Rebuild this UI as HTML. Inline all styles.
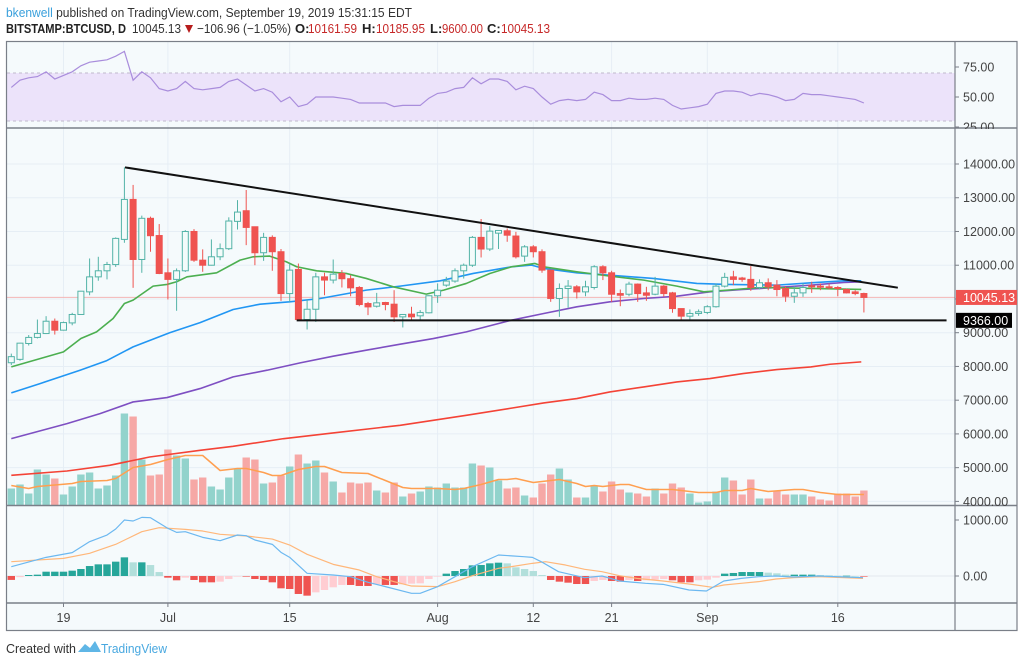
<!DOCTYPE html>
<html><head><meta charset="utf-8">
<style>
html,body{margin:0;padding:0;background:#fff;}
svg{display:block;font-family:"Liberation Sans",sans-serif;}
</style></head>
<body>
<svg id="chart" width="1024" height="665" viewBox="0 0 1024 665" xmlns="http://www.w3.org/2000/svg">
  <g>
    <text x="6" y="17" font-size="13" textLength="406" lengthAdjust="spacingAndGlyphs" fill="#333"><tspan fill="#3aa0dc">bkenwell</tspan> published on TradingView.com, September 19, 2019 15:31:15 EDT</text>
    <g font-size="13">
      <text x="6" y="33" font-weight="bold" fill="#222" textLength="120" lengthAdjust="spacingAndGlyphs">BITSTAMP:BTCUSD, D</text>
      <text x="132" y="33" fill="#333" textLength="49" lengthAdjust="spacingAndGlyphs">10045.13</text>
      <polygon points="185,25 193,25 189,33" fill="#b71c1c"/>
      <text x="197" y="33" fill="#333" textLength="94" lengthAdjust="spacingAndGlyphs">−106.96 (−1.05%)</text>
      <text x="295" y="33" font-weight="bold" fill="#222">O:</text>
      <text x="308" y="33" fill="#c62828" textLength="49" lengthAdjust="spacingAndGlyphs">10161.59</text>
      <text x="362" y="33" font-weight="bold" fill="#222">H:</text>
      <text x="376" y="33" fill="#c62828" textLength="49" lengthAdjust="spacingAndGlyphs">10185.95</text>
      <text x="430" y="33" font-weight="bold" fill="#222">L:</text>
      <text x="442" y="33" fill="#c62828" textLength="41" lengthAdjust="spacingAndGlyphs">9600.00</text>
      <text x="487" y="33" font-weight="bold" fill="#222">C:</text>
      <text x="501" y="33" font-size="13" fill="#c62828" textLength="49" lengthAdjust="spacingAndGlyphs">10045.13</text>
    </g>
  </g>
  <rect x="6" y="41" width="1011" height="590" fill="#f5fafc"/>
  <g id="grid"></g>
  <g id="rsi"></g>
  <g id="main"></g>
  <g id="macd"></g>
  <g id="axes"></g>
  <g>
    <text x="6" y="653" font-size="13" fill="#333" textLength="70" lengthAdjust="spacingAndGlyphs">Created with</text>
    <path d="M78,652 L85,644 L90,648 L95,641 L101,652 Z" fill="#5fb6e6"/>
    <text x="101" y="653" font-size="13" fill="#48a8e0" textLength="66" lengthAdjust="spacingAndGlyphs">TradingView</text>
  </g>
</svg>
<script>
// ---------- data ----------
const opens  = [8110,8210,8680,8860,8975,9340,9075,9290,9540,10210,10655,10835,11020,11765,12950,11170,12390,11880,10775,10580,10835,12000,11150,11000,11250,11490,12300,12615,12140,11370,11825,11400,10160,10875,9390,9695,10655,10560,10755,10600,10340,9865,9785,9895,9845,9470,9550,9500,9590,10095,10410,10530,10835,11000,11825,11480,11950,12020,11865,11270,11545,11400,10855,10015,10310,10360,10210,10340,10955,10775,10160,10140,10440,10180,10140,10380,10180,9715,9490,9570,9600,9770,10380,10655,10620,10580,10340,10480,10410,10310,10080,10180,10390,10380,10360,10340,10280,10210,10161.59];
const highs  = [8380,8700,8930,9390,9490,9420,9330,9590,10240,11200,11250,11100,11825,13900,13380,12470,12440,12220,11200,10905,12040,12070,11470,11765,11645,12420,12930,13230,12140,11960,11885,11480,11050,11050,9995,10775,10775,11170,10855,10705,10380,9915,10180,9915,10260,9550,9770,9670,10110,10460,10655,10905,11050,11865,12370,12160,12040,12090,11990,11595,11595,11470,10875,10460,10560,10410,10540,11000,11000,10835,10280,10510,10460,10360,10655,10410,10210,9715,9690,9690,9815,10460,10775,10835,10655,10975,10580,10610,10560,10380,10380,10460,10510,10460,10460,10380,10310,10260,10185.95];
const lows   = [8040,8170,8620,8830,8960,8945,9060,9220,9540,10110,10540,10580,10950,11665,10330,10775,11400,10735,9985,9650,10800,11100,10805,10990,11150,11450,12060,11595,11000,11130,10835,9945,9915,9390,9095,9320,10110,10460,10340,10080,9785,9520,9745,9665,9320,9155,9390,9390,9570,9885,10360,10480,10605,10950,11230,11420,11480,11695,11200,11100,11230,10775,9915,9470,9745,10015,10080,10280,10560,9915,9785,10080,9915,9945,10110,10065,9590,9370,9390,9500,9550,9745,10340,10410,10510,10240,10280,10260,10080,9915,9885,10060,10180,10260,10280,10080,10160,10110,9600];
const closes = [8290,8690,8860,8975,9340,9075,9300,9540,10230,10655,10835,11020,11795,12950,11170,12390,11875,10755,10580,10835,12000,11150,11000,11250,11490,12310,12575,12120,11370,11825,11400,10160,10855,9390,9695,10655,10560,10735,10600,10330,9835,9765,9885,9835,9470,9540,9470,9600,10095,10260,10530,10835,11000,11825,11480,12010,12030,11890,11250,11545,11400,10855,10015,10310,10380,10210,10360,10955,10775,10140,10110,10440,10160,10110,10380,10160,9715,9490,9570,9620,9770,10380,10640,10580,10580,10340,10480,10360,10280,10080,10180,10340,10360,10360,10340,10310,10180,10160,10045.13];
const volumes = [17,21,12,36,31,27,11,19,31,33,17,20,30,92,89,46,30,31,56,50,47,26,28,19,16,28,37,48,46,22,23,30,39,51,42,45,33,24,13,23,22,23,15,13,23,9,12,14,19,18,22,18,18,42,40,38,25,17,18,10,8,22,31,37,26,8,8,20,14,24,16,13,12,9,17,12,22,18,12,3,4,14,28,25,11,26,7,7,15,11,11,11,9,6,5,12,12,9,15];
const volMaDays = [0,2,3,7,8,11,12,14,16,18,20,22,24,26,27,29,30,31,33,35,36,38,41,43,45,46,49,51,52,54,56,57,58,60,62,63,65,66,67,68,70,71,73,76,77,79,81,82,84,85,87,90,91,93,95,98];
const volMaVals = [20,17,19,22,24,25,27,38,41,46,50,50,35,37,37,33,30,30,36,39,39,33,32,25,18,17,17,16,17,21,26,26,27,23,25,26,22,19,20,19,21,21,16,16,15,13,13,15,15,17,14,16,16,13,11,11];
const rsiVals = [58,64,66,67,71,65,68,71,76,79,80,81,84,88,64,71,66,57,55,57,63,57,56,57,58,63,65,60,55,57,54,46,50,42,44,50,50,50,49,48,45,45,45,45,42,43,43,43,49,53,54,57,58,66,61,65,65,63,56,59,57,50,44,47,48,47,48,54,52,47,47,49,48,48,49,48,43,40,41,42,44,53,55,55,54,51,53,52,50,47,48,53,52,52,51,50,49,48,45];
const ma20Days = [0,6,8,9.8,11.7,13,14,16.3,17.9,19,20.2,23.6,26.3,27.8,29.7,31.6,32.8,35.1,38.5,40.8,43.9,47.7,49.7,52.3,55,57.5,60.2,61.2,65,68.8,72.7,76.5,79.6,82.3,86.1,91.9,97.7];
const ma20Vals = [7986,8431,8827,9025,9420,9866,9965,10380,10430,10510,10657,10775,11151,11250,11270,11102,10954,10835,10756,10608,10360,10143,10262,10460,10756,10954,11052,10954,10805,10677,10558,10380,10212,10262,10341,10311,10281];
const ma50Days = [0,3.3,7.9,10.9,14,18.2,21.7,25.5,28.6,32,35.5,40.8,44.7,49.3,53.1,57.5,59.8,61.2,65,68.8,73.8,78.8,82.3,88,91.9,95.7,97.7];
const ma50Vals = [7215,7492,7888,8164,8580,9000,9300,9688,9846,9915,10014,10262,10380,10538,10756,10954,11003,10904,10775,10706,10607,10459,10430,10410,10479,10538,10538];
const ma100Days = [0,6.4,10.2,14,17.9,21.7,25.5,29.4,33.2,37,40.8,44.7,48.5,52.3,57.5,61.2,65,68.8,72.7,76.5,80.3,84.1,88,91.9,95.7,97.7];
const ma100Vals = [5860,6305,6602,6948,7077,7344,7690,7888,8105,8303,8481,8659,8827,9025,9371,9569,9767,9915,10014,10083,10212,10281,10341,10410,10489,10508];
const ma200Days = [0,6.4,11.3,15.9,21.7,25.5,31.3,37,44.7,52.3,57.5,61.2,65,68.8,72.7,76.5,80.3,84.1,88,91.9,94.1,97.7];
const ma200Vals = [4772,4901,5069,5316,5514,5633,5860,6028,6256,6552,6765,6918,7047,7245,7393,7541,7640,7789,7907,7986,8065,8135];
const histVals = [-70,-20,18,24,77,77,77,95,125,178,208,208,256,333,244,244,196,71,-30,-77,-30,-71,-113,-113,-101,-54,-5,-5,-54,-71,-113,-220,-232,-321,-351,-292,-250,-202,-160,-160,-178,-178,-149,-160,-160,-149,-137,-131,-54,-5,42,89,125,190,196,226,238,226,155,125,89,18,-71,-101,-119,-143,-143,-89,-71,-89,-101,-71,-89,-77,-65,-54,-77,-113,-113,-77,-65,-30,42,54,71,71,71,60,48,24,24,24,24,18,12,6,6,0,-6];
const macdDays = [0,4,7,9,11,12,13,14,15,16,18,19,20,22,24,26,27,28,30,31,32,34,37,39,41,43,46,47,49,51,53,56,57.5,58.9,59.9,60.9,62.9,65.9,67.9,69.9,72.9,74.9,77.9,79.9,81.9,83.9,85.9,87.9,89.9,92.8,97.9];
const macdVals = [167,333,417,613,732,839,1000,982,1047,1041,851,779,791,690,631,732,720,643,565,422,333,48,18,-12,-113,-190,-309,-309,-190,-12,167,375,360,345,333,256,77,-30,0,-89,-131,-149,-250,-268,-89,-42,-12,0,-18,0,-30];
const signalDays = [0,6,9,12,15,17,20,22,24,27,30,32,34,37,40,42,44,46,49,51,53,56,57.5,59.9,61.4,63.7,65.9,67.9,69.9,71.9,74.9,77.9,80.6,81.9,83.9,85.9,87.9,89.9,92.8,97.9];
const signalVals = [256,315,405,565,791,863,833,803,744,714,660,553,387,208,107,-12,-101,-179,-190,-101,6,137,167,226,256,196,119,77,6,-42,-89,-143,-202,-161,-131,-101,-54,-30,-12,-42];
const priceTicks = [14000,13000,12000,11000,10000,9000,8000,7000,6000,5000,4000];
const priceTickLabels = ["14000.00","13000.00","12000.00","11000.00","10000.00","9000.00","8000.00","7000.00","6000.00","5000.00","4000.00"];
const rsiTicks = [75,50,25];
const rsiTickLabels = ["75.00","50.00","25.00"];
const macdTicks = [1000,0];
const macdTickLabels = ["1000.00","0.00"];
const dateDays = [6,18,32,49,60,69,80,95];
const dateLabels = ["19","Jul","15","Aug","12","21","Sep","16"];
const resistStart = [13.07,13900];
const resistEnd = [101.9,10334];
const supportStart = [32.8,9366];
const supportEnd = [107.5,9366];
const lastPrice = 10045.13;
const supportLabel = "9366.00";
const lastPriceLabel = "10045.13";

// ---------- scales ----------
const NS = "http://www.w3.org/2000/svg";
const xD = d => 11.3 + 8.7 * d;
const yP = v => 164 + (14000 - v) * 0.03374;
const yR = r => 97 - (r - 50) * 1.2;
const yM = m => 576 - m * 0.056;
const VOL_BASE = 505.5;
const yV = v => VOL_BASE - v;
function mk(tag, attrs, parent) {
  const e = document.createElementNS(NS, tag);
  for (const k in attrs) e.setAttribute(k, attrs[k]);
  parent.appendChild(e);
  return e;
}
const G = document.getElementById('grid');
const R = document.getElementById('rsi');
const M = document.getElementById('main');
const C = document.getElementById('macd');
const A = document.getElementById('axes');

const defs = mk('defs', {}, document.getElementById('chart'));
const cpMain = mk('clipPath', {id: 'clipMain'}, defs);
mk('rect', {x: 7, y: 129, width: 948, height: 376}, cpMain);
M.setAttribute('clip-path', 'url(#clipMain)');

dateDays.forEach(d => {
  const l = mk('line', {x1: xD(d), x2: xD(d), y1: 41, y2: 603, stroke: '#e6eef5', 'stroke-width': 1}, G);
  
  
});
priceTicks.forEach(v => {
  const l = mk('line', {x1: 7, x2: 955, y1: yP(v), y2: yP(v), stroke: '#e6eef5', 'stroke-width': 1}, G);
  
  
});

const band = mk('rect', {x: 7, y: yR(70), width: 948, height: yR(30) - yR(70), fill: '#ece3fa'}, R);


[70, 30].forEach(v => {
  const l = mk('line', {x1: 7, x2: 955, y1: yR(v), y2: yR(v), stroke: '#c0b8cc', 'stroke-dasharray': '3,3', 'stroke-width': 1}, R);
  
  
});
const rsiLine = mk('polyline', {points: rsiVals.map((r, i) => xD(i) + ',' + yR(r)).join(' '), fill: 'none', stroke: '#a98ddc', 'stroke-width': 1.2}, R);



volumes.forEach((v, i) => {
  const up = closes[i] >= opens[i];
  const b = mk('rect', {x: xD(i) - 3.7, y: yV(v), width: 7.4, height: v, fill: up ? '#92d3cc' : '#f6a8a6'}, M);
  
  
});
function line(days, vals, yf, color, w, parent) {
  return mk('polyline', {points: days.map((d, i) => xD(d) + ',' + yf(vals[i])).join(' '), fill: 'none', stroke: color, 'stroke-width': w, 'stroke-linejoin': 'round'}, parent);
}
const vma = line(volMaDays, volMaVals, yV, '#ff9f50', 1.5, M);



const lp = mk('line', {x1: 7, x2: 955, y1: yP(lastPrice), y2: yP(lastPrice), stroke: '#f3b5b5', 'stroke-width': 1}, M);



const m200 = line(ma200Days, ma200Vals, yP, '#f44336', 1.6, M);


const m100 = line(ma100Days, ma100Vals, yP, '#7e4fc2', 1.6, M);


const m50 = line(ma50Days, ma50Vals, yP, '#2196f3', 1.6, M);


const m20 = line(ma20Days, ma20Vals, yP, '#4caf50', 1.6, M);



opens.forEach((o, i) => {
  const c = closes[i], up = c >= o;
  const col = up ? '#53b3a7' : '#ef5350';
  const x = xD(i);
  const w = mk('line', {x1: x, x2: x, y1: yP(highs[i]), y2: yP(lows[i]), stroke: col, 'stroke-width': 1}, M);
  
  
  const top = yP(Math.max(o, c)), bot = yP(Math.min(o, c));
  const b = mk('rect', {x: x - 3, y: top, width: 6, height: Math.max(1, bot - top), fill: up ? '#f3fbfa' : '#ef5350', stroke: col, 'stroke-width': 1}, M);
  
  
});

const tr = mk('line', {x1: xD(resistStart[0]), y1: yP(resistStart[1]), x2: xD(resistEnd[0]), y2: yP(resistEnd[1]), stroke: '#111', 'stroke-width': 2}, M);


const sp = mk('line', {x1: xD(supportStart[0]), y1: yP(supportStart[1]), x2: xD(supportEnd[0]), y2: yP(supportEnd[1]), stroke: '#111', 'stroke-width': 2}, M);



const zl = mk('line', {x1: 7, x2: 955, y1: yM(0), y2: yM(0), stroke: '#e3e8ee', 'stroke-width': 1}, C);


histVals.forEach((h, i) => {
  const prev = i > 0 ? histVals[i - 1] : h;
  let col;
  if (h >= 0) col = h >= prev ? '#26a69a' : '#b2dfdb';
  else col = h <= prev ? '#ef5350' : '#ffcdd2';
  const y = h >= 0 ? yM(h) : yM(0);
  const b = mk('rect', {x: xD(i) - 3.7, y: y, width: 7.4, height: Math.max(0.6, Math.abs(yM(h) - yM(0))), fill: col}, C);
  
  
});
const sig = line(signalDays, signalVals, yM, '#ffb77a', 1.2, C);


const ml = line(macdDays, macdVals, yM, '#6cb8f0', 1.2, C);



const fr = mk('rect', {x: 6.5, y: 41.5, width: 1010.5, height: 589, fill: 'none', stroke: '#7a7f88', 'stroke-width': 1.2}, A);


[128, 505.5, 603].forEach(y => {
  const l = mk('line', {x1: 6, x2: 1017, y1: y, y2: y, stroke: '#7a7f88', 'stroke-width': 1.5}, A);
  
  
});
const vs = mk('line', {x1: 955, x2: 955, y1: 41, y2: 631, stroke: '#7a7f88', 'stroke-width': 1.2}, A);



function tickLabel(y, txt, name) {
  const t = mk('line', {x1: 955, x2: 959, y1: y, y2: y, stroke: '#7a7f88'}, A);
  
  
  const l = mk('text', {x: 963, y: y + 4.5, 'font-size': 12.5, fill: '#444'}, A);
  l.textContent = txt;
  
  
}
priceTicks.forEach((v, i) => { if (yP(v) > 135 && yP(v) < 505) tickLabel(yP(v), priceTickLabels[i], 'price-tick'); });
rsiTicks.forEach((v, i) => tickLabel(yR(v), rsiTickLabels[i], 'rsi-tick'));
macdTicks.forEach((v, i) => tickLabel(yM(v), macdTickLabels[i], 'macd-tick'));

const cover = mk('rect', {x: 956, y: 129, width: 60, height: 3, fill: '#f5fafc'}, A);



const lpBox = mk('rect', {x: 956, y: yP(lastPrice) - 7.5, width: 61, height: 15, fill: '#ef5350'}, A);


const lpT = mk('text', {x: 963, y: yP(lastPrice) + 4.5, 'font-size': 12.5, fill: '#fff'}, A);
lpT.textContent = lastPriceLabel;


const spBox = mk('rect', {x: 956, y: yP(supportStart[1]) - 7.5, width: 56, height: 15, fill: '#000'}, A);


const spT = mk('text', {x: 963, y: yP(supportStart[1]) + 4.5, 'font-size': 12.5, fill: '#fff'}, A);
spT.textContent = supportLabel;



dateDays.forEach((d, i) => {
  const t = mk('line', {x1: xD(d), x2: xD(d), y1: 603, y2: 607, stroke: '#7a7f88'}, A);
  
  
  const l = mk('text', {x: xD(d), y: 622, 'font-size': 12.5, fill: '#444', 'text-anchor': 'middle'}, A);
  l.textContent = dateLabels[i];
  
  
});
</script>
</body></html>
